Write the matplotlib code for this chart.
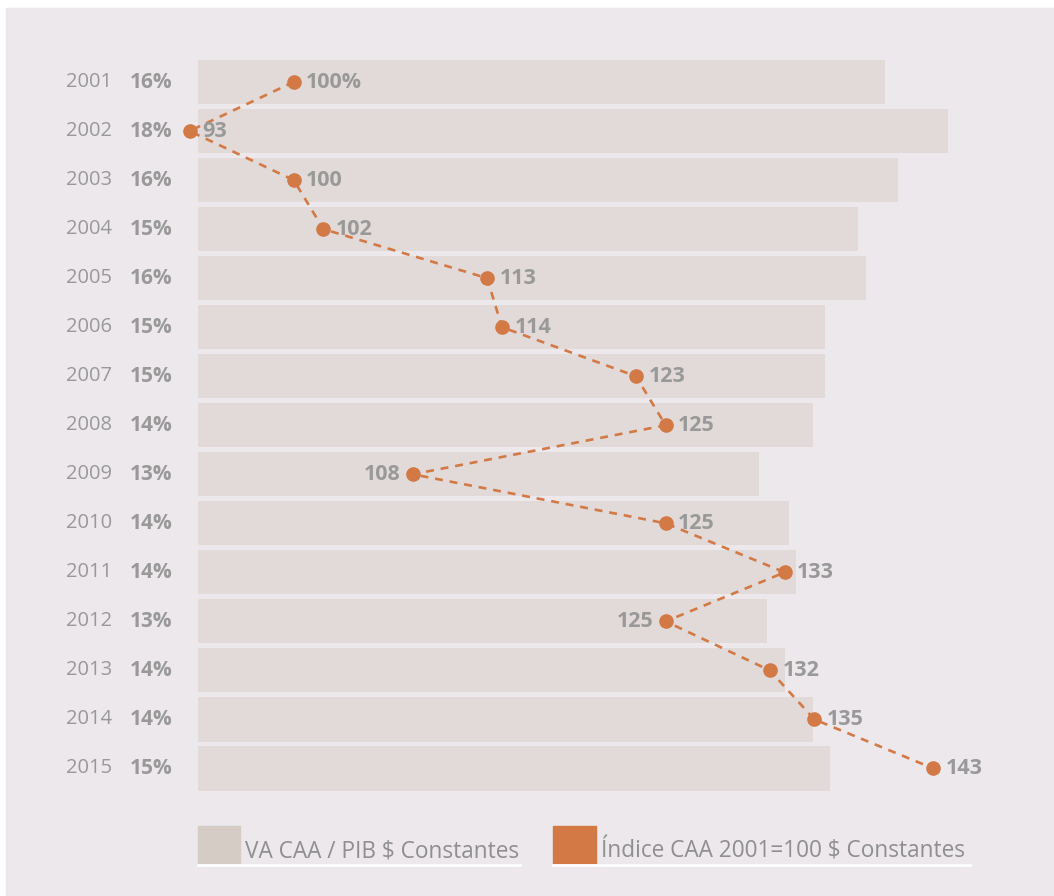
import matplotlib
matplotlib.use("Agg")
import matplotlib.pyplot as plt
from matplotlib.patches import Rectangle
from matplotlib.lines import Line2D
from matplotlib.transforms import blended_transform_factory

plt.rcParams['font.family'] = ['Open Sans', 'DejaVu Sans']

years = [2001, 2002, 2003, 2004, 2005, 2006, 2007, 2008,
         2009, 2010, 2011, 2012, 2013, 2014, 2015]
# VA CAA / PIB (%)
va_share = [16.09, 17.56, 16.39, 15.46, 15.64, 14.68, 14.68, 14.40,
            13.14, 13.84, 14.00, 13.33, 13.75, 14.40, 14.80]
# Indice CAA 2001=100
index_caa = [100, 93, 100, 102, 113, 114, 123, 125,
             108, 125, 133, 125, 132, 135, 143]
index_labels = ['100%', '93', '100', '102', '113', '114', '123', '125',
                '108', '125', '133', '125', '132', '135', '143']
label_left = [False, False, False, False, False, False, False, False,
              True, False, False, True, False, False, False]

W, H = 1054, 896
panel = '#ECE8EB'
bar_c = '#E2DAD9'
orange = '#D27945'
grey = '#999999'

fig = plt.figure(figsize=(W / 100, H / 100), dpi=100, facecolor='white')
fig.patches.append(Rectangle((6 / W, 0), 1 - 6 / W, 1 - 8 / H,
                             transform=fig.transFigure, color=panel, zorder=-5))

ax = fig.add_axes([198 / W, 1 - 793 / H, (1000 - 198) / W, (793 - 57.5) / H])
ax.set_facecolor('none')
rows = list(range(len(years)))
ax.barh(rows, va_share, height=0.9, color=bar_c)
ax.set_xlim(0, 802 / 42.7)
ax.set_ylim(len(years) - 0.5, -0.5)
ax.axis('off')

ax2 = ax.twiny()
ax2.set_xlim(93.57, 147.47)
ax2.set_ylim(len(years) - 0.5, -0.5)
ax2.axis('off')
ax2.plot(index_caa, rows, color=orange, lw=1.9, ls=(0, (3.0, 2.6)),
         clip_on=False, zorder=3)
ax2.plot(index_caa, rows, 'o', color=orange, ms=9.5, clip_on=False, zorder=4)

for x, y, lab, left in zip(index_caa, rows, index_labels, label_left):
    ax2.annotate(lab, (x, y), xytext=(-9 if left else 9, 0),
                 textcoords='offset points', ha='right' if left else 'left',
                 va='center', fontsize=15.5, fontweight='bold', color=grey,
                 annotation_clip=False)

tr = blended_transform_factory(fig.transFigure, ax.transData)
for y, yr, v in zip(rows, years, va_share):
    fig.text(112 / W, y, str(yr), transform=tr, ha='right', va='center',
             fontsize=14.5, color=grey)
    fig.text(130 / W, y, f"{round(v)}%", transform=tr, ha='left', va='center',
             fontsize=15, fontweight='bold', color=grey)

# legend
legend_items = [
    (198, 240, 245, 520, '#D5CDC5', 'VA CAA / PIB $ Constantes'),
    (553, 596, 601, 970, orange, 'Índice CAA 2001=100 $ Constantes'),
]
for x0, x1, tx, lx, col, txt in legend_items:
    fig.patches.append(Rectangle((x0 / W, 1 - 862.5 / H), (x1 - x0) / W, 36.5 / H,
                                 transform=fig.transFigure, color=col, zorder=1))
    fig.text(tx / W, 1 - 857 / H, txt, ha='left', va='baseline',
             fontsize=16.3, color='#8f8f8f')
    fig.lines.append(Line2D([x0 / W, lx / W], [1 - 864.7 / H] * 2,
                            transform=fig.transFigure, color='white', lw=1.9))

fig.savefig('out.png', dpi=100, facecolor=fig.get_facecolor())
